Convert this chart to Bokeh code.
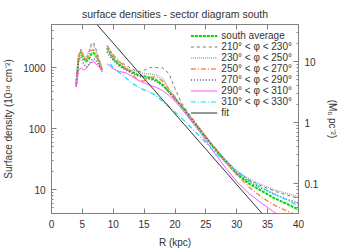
import math
from bokeh.plotting import figure
from bokeh.models import (LogAxis, LinearAxis, Range1d, FixedTicker, Legend, LegendItem,
                          BasicTickFormatter, CustomJSTickFormatter)
from bokeh.embed import file_html
from bokeh.resources import INLINE

NaN = float("nan")

# ---- data ----
r_left = [4.0, 4.4, 4.8, 5.2, 5.6, 6.0, 6.4, 6.8, 7.2, 7.6, 8.0, 8.2]
r_right = [9, 9.5, 10, 11, 12, 13, 14, 15, 16, 17, 18, 19, 20, 21, 22, 24, 26, 28, 30, 32, 34, 36, 38, 40]

south_avg_left = [520, 1500, 1800, 1400, 1250, 1350, 1650, 1750, 1550, 1300, 1000, 900]
south_avg_right = [2100, 1700, 1400, 1100, 950, 850, 760, 720, 680, 620, 520, 400, 310, 240, 175, 95, 52, 30, 18, 12.5, 9.5, 7.3, 5.9, 4.7]

s210_left = [600, 1600, 2000, 1500, 1300, 1700, 2400, 2600, 2000, 1500, 1100, 950]
s210_right = [2300, 1900, 1500, 1250, 1100, 950, 850, 900, 1000, 1000, 980, 800, 450, 270, 190, 100, 55, 32, 20, 14.5, 11.5, 9.5, 8.2, 7.2]

s230_left = [550, 1400, 1900, 1600, 1400, 1800, 2200, 2300, 1900, 1400, 1100, 900]
s230_right = [2000, 1700, 1400, 1150, 1000, 900, 850, 800, 780, 760, 660, 450, 300, 230, 170, 98, 55, 32, 20, 15, 12, 10, 8.7, 7.6]

s250_left = [480, 1600, 1950, 1500, 1300, 1600, 1900, 1950, 1650, 1350, 1050, 900]
s250_right = [2300, 1900, 1600, 1250, 1000, 780, 620, 600, 690, 700, 600, 440, 330, 240, 180, 100, 54, 30, 17.5, 11, 7.5, 5.6, 4.5, 3.7]

s270_left = [500, 1300, 1500, 1150, 1000, 1100, 1300, 1400, 1300, 1100, 950, 850]
s270_right = [1800, 1500, 1300, 1050, 920, 820, 730, 680, 640, 590, 500, 400, 310, 235, 175, 97, 54, 31, 19, 13.5, 10.5, 8.5, 7.0, 6.0]

s290_left = [480, 900, 1000, 900, 950, 1100, 1200, 1250, 1150, 1050, 950, 900]
s290_right = [1150, 1050, 950, 860, 820, 720, 620, 560, 510, 470, 420, 350, 280, 215, 160, 88, 45, 24, 13.5, 8.6, 6.0, 4.3, 3.2, 2.5]

s310_left = [NaN] * 12
s310_right = [NaN, 1150, 1000, 820, 680, 560, 480, 430, 390, 340, 280, 230, 185, 150, 120, 75, 46, 29, 19.5, 14, 10.8, 8.5, 6.8, 5.4]

fit_r = [5, 36]
fit_s = [9500, 2.44]

labels = ["south average",
          "210° < φ < 230°", "230° < φ < 250°", "250° < φ < 270°",
          "270° < φ < 290°", "290° < φ < 310°", "310° < φ < 330°", "fit"]

x_ticks = [0, 5, 10, 15, 20, 25, 30, 35, 40]
y_ticks = [10, 100, 1000]
y2_ticks = [0.1, 1, 10]
conv = 125.0  # 10^18 cm^-2 per Msun pc^-2

y_lo, y_hi = 4.05, 5070

FONT = "Liberation Sans"
TXT = "#333333"
AX = "#808080"

p = figure(frame_width=247, frame_height=189, x_range=Range1d(0, 40),
           y_range=Range1d(y_lo, y_hi), y_axis_type="log",
           output_backend="svg", toolbar_location=None,
           title="surface densities - sector diagram south",
           min_border_left=48, min_border_right=43, min_border_top=21, min_border_bottom=22)
p.extra_y_ranges = {"right": Range1d(y_lo / conv, y_hi / conv)}

p.title.align = "center"
p.title.text_font = FONT
p.title.text_font_size = "10.5px"
p.title.text_font_style = "normal"
p.title.text_color = TXT

p.xgrid.visible = False
p.ygrid.visible = False
p.outline_line_color = AX
p.outline_line_width = 1
p.background_fill_color = "white"
p.border_fill_color = "white"

def minor_log(lo, hi):
    out = []
    d = 10 ** math.floor(math.log10(lo))
    while d < hi * 10:
        for k in range(2, 10):
            v = k * d
            if lo <= v <= hi:
                out.append(v)
        d *= 10
    return out

def style_axis(ax):
    ax.major_tick_in = 5
    ax.major_tick_out = 0
    ax.minor_tick_in = 2
    ax.minor_tick_out = 0
    ax.axis_line_color = AX
    ax.major_tick_line_color = AX
    ax.minor_tick_line_color = AX
    ax.major_label_text_font = FONT
    ax.major_label_text_font_size = "10px"
    ax.major_label_text_color = TXT
    ax.axis_label_text_font = FONT
    ax.axis_label_text_font_size = "10px"
    ax.axis_label_text_font_style = "normal"
    ax.axis_label_text_color = TXT
    ax.major_label_standoff = 6
    ax.axis_label_standoff = 6

xa = p.xaxis[0]
xa.ticker = FixedTicker(ticks=x_ticks)
style_axis(xa)
xa.axis_label = "R (kpc)"
xa.minor_tick_in = 0

ya = p.yaxis[0]
ya.ticker = FixedTicker(ticks=y_ticks, minor_ticks=minor_log(y_lo, y_hi))
ya.formatter = BasicTickFormatter()
style_axis(ya)
ya.axis_label = "Surface density (10¹⁸ cm⁻²)"

# top axis: ticks only, no labels
top = LinearAxis(ticker=FixedTicker(ticks=x_ticks),
                 formatter=CustomJSTickFormatter(code="return ''"))
style_axis(top)
top.major_label_standoff = 0
top.minor_tick_in = 0
p.add_layout(top, "above")

ra = LogAxis(y_range_name="right",
             ticker=FixedTicker(ticks=y2_ticks, minor_ticks=minor_log(y_lo / conv, y_hi / conv)),
             formatter=BasicTickFormatter())
style_axis(ra)
ra.axis_label = "(Mₒ pc⁻²)"
p.add_layout(ra, "right")

def seg(left, right):
    return list(r_left) + [NaN] + list(r_right), list(left) + [NaN] + list(right)

series = [
    (south_avg_left, south_avg_right, dict(line_color="#00dd00", line_width=2, line_dash="3 1")),
    (s210_left, s210_right, dict(line_color="#777777", line_width=1, line_dash="3 3")),
    (s230_left, s230_right, dict(line_color="#aaaaaa", line_width=1.5, line_dash="1 1")),
    (s250_left, s250_right, dict(line_color="#ff8855", line_width=1.5, line_dash="5 2 1 2")),
    (s270_left, s270_right, dict(line_color="#555577", line_width=1.5, line_dash="1 2")),
    (s290_left, s290_right, dict(line_color="#ff55ff", line_width=1)),
    (s310_left, s310_right, dict(line_color="#00ddff", line_width=1.2, line_dash="5 2 1 2")),
]

renderers = []
for left, right, style in series:
    xs, ys = seg(left, right)
    r = p.line(xs, ys, **style)
    renderers.append(r)
rf = p.line(fit_r, fit_s, line_color="#333333", line_width=1)
renderers.append(rf)

legend = Legend(items=[LegendItem(label=l, renderers=[r]) for l, r in zip(labels, renderers)],
                location="top_right")
legend.background_fill_alpha = 0
legend.border_line_alpha = 0
legend.label_text_font = FONT
legend.label_text_font_size = "10px"
legend.label_text_color = TXT
legend.label_text_line_height = 0.3
legend.glyph_width = 27
legend.glyph_height = 7
legend.label_height = 7
legend.spacing = -2
legend.padding = 2
legend.margin = 4
legend.label_standoff = 4
p.add_layout(legend)

open("out.html", "w").write(file_html(p, INLINE))
